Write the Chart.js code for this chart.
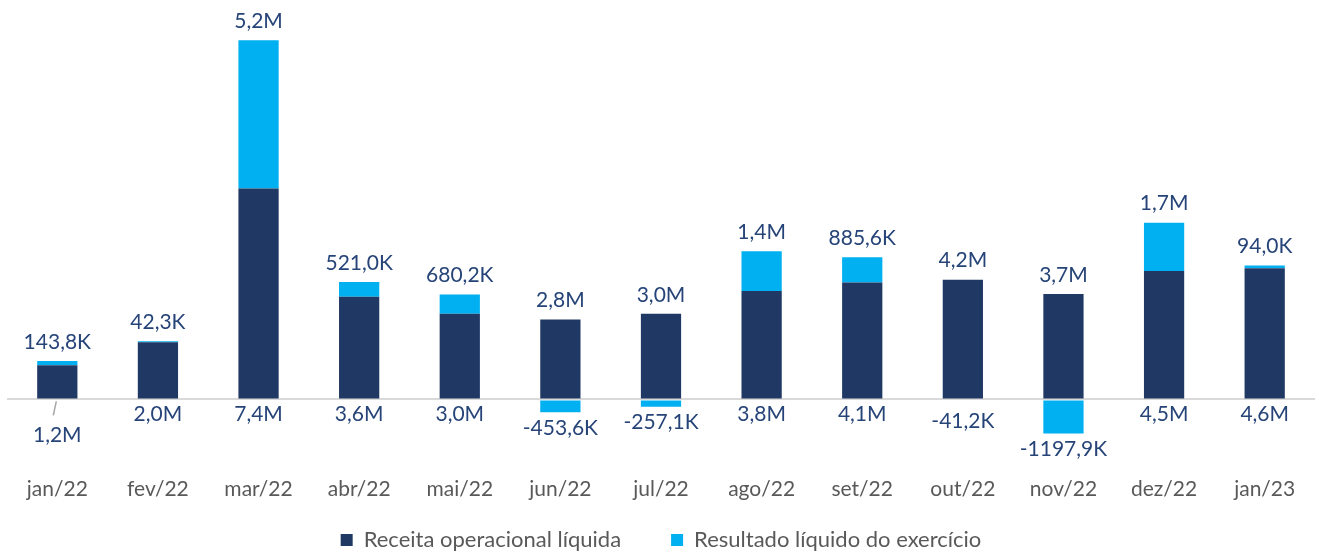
<!DOCTYPE html>
<html>
<head>
<meta charset="utf-8">
<script src="https://cdn.jsdelivr.net/npm/chart.js@4/dist/chart.umd.min.js"></script>
<style>
  html, body { margin: 0; padding: 0; background: #fff; }
  #wrap { width: 1319px; height: 555px; position: relative; }
</style>
</head>
<body>
<div id="wrap"><canvas id="chart"></canvas></div>
<script>
// dados
const meses = ["jan/22", "fev/22", "mar/22", "abr/22", "mai/22", "jun/22", "jul/22",
               "ago/22", "set/22", "out/22", "nov/22", "dez/22", "jan/23"];
const receita = [1200000, 2000000, 7400000, 3600000, 3000000, 2800000, 3000000,
                 3800000, 4100000, 4200000, 3700000, 4500000, 4600000];
const resultado = [143800, 42300, 5200000, 521000, 680200, -453600, -257100,
                   1400000, 885600, -41200, -1197900, 1700000, 94000];

const escuro = "#203864";
const claro = "#00B0F0";
const corRotulo = "#264478";
const fonte = "Lato, 'Open Sans', sans-serif";

function fmt(v) {
    if (v >= 1000000) return (v / 1000000).toFixed(1).replace(".", ",") + "M";
    return (v / 1000).toFixed(1).replace(".", ",") + "K";
}

// rótulos de dados
const rotulos = {
    id: "rotulos",
    afterDatasetsDraw(chart) {
        const ctx = chart.ctx;
        const m0 = chart.getDatasetMeta(0).data;
        const m1 = chart.getDatasetMeta(1).data;
        const zero = chart.scales.y.getPixelForValue(0);
        ctx.save();
        ctx.font = "21px " + fonte;
        ctx.fillStyle = corRotulo;
        ctx.textAlign = "center";
        ctx.textBaseline = "middle";
        for (let i = 0; i < meses.length; i++) {
            const x = m0[i].x;
            if (resultado[i] >= 0) {
                ctx.fillText(fmt(resultado[i]), x, m1[i].y - 19);
                if (i === 0) {
                    ctx.strokeStyle = "#a6a6a6";
                    ctx.lineWidth = 1.5;
                    ctx.beginPath();
                    ctx.moveTo(x - 1, zero + 2);
                    ctx.lineTo(x - 4, zero + 16);
                    ctx.stroke();
                    ctx.fillText(fmt(receita[i]), x, zero + 36);
                } else {
                    ctx.fillText(fmt(receita[i]), x, zero + 15);
                }
            } else {
                ctx.fillText(fmt(receita[i]), x, m0[i].y - 19);
                ctx.fillText(fmt(resultado[i]), x, Math.max(m1[i].y + 16, zero + 22));
            }
        }
        ctx.restore();
    }
};

// legenda: espaçamento horizontal largo sem ocupar tanta altura
const legendaCompacta = {
    id: "legendaCompacta",
    beforeInit(chart) {
        const fit = chart.legend.fit;
        chart.legend.fit = function() {
            fit.bind(chart.legend)();
            this.height = 44;
        };
    },
    afterLayout(chart) {
        chart.legend.top -= 32;
    }
};

new Chart(document.getElementById("chart"), {
    type: "bar",
    data: {
        labels: meses,
        datasets: [{
            label: "Receita operacional líquida",
            data: receita,
            backgroundColor: escuro,
            borderWidth: 0
        }, {
            label: "Resultado líquido do exercício",
            data: resultado,
            backgroundColor: claro,
            borderWidth: 0
        }]
    },
    options: {
        responsive: true,
        maintainAspectRatio: false,
        animation: false,
        barPercentage: 0.4,
        categoryPercentage: 1.0,
        layout: {
            padding: { left: 7, right: 4, top: 6, bottom: 0 }
        },
        plugins: {
            legend: {
                position: "bottom",
                labels: {
                    font: { family: fonte, size: 22 },
                    color: "#595959",
                    boxWidth: 12,
                    boxHeight: 12,
                    padding: 50
                }
            },
            tooltip: { enabled: false }
        },
        scales: {
            x: {
                stacked: true,
                grid: { display: false, drawTicks: false },
                border: { display: false },
                ticks: {
                    font: { family: fonte, size: 21 },
                    color: "#595959",
                    padding: 9
                }
            },
            y: {
                stacked: true,
                min: -2400000,
                max: 13800000,
                ticks: { display: false },
                border: { display: false },
                grid: {
                    drawTicks: false,
                    lineWidth: 2,
                    color: c => c.tick.value === 0 ? "#d9d9d9" : "transparent"
                }
            }
        }
    },
    plugins: [rotulos, legendaCompacta]
});
</script>
</body>
</html>
